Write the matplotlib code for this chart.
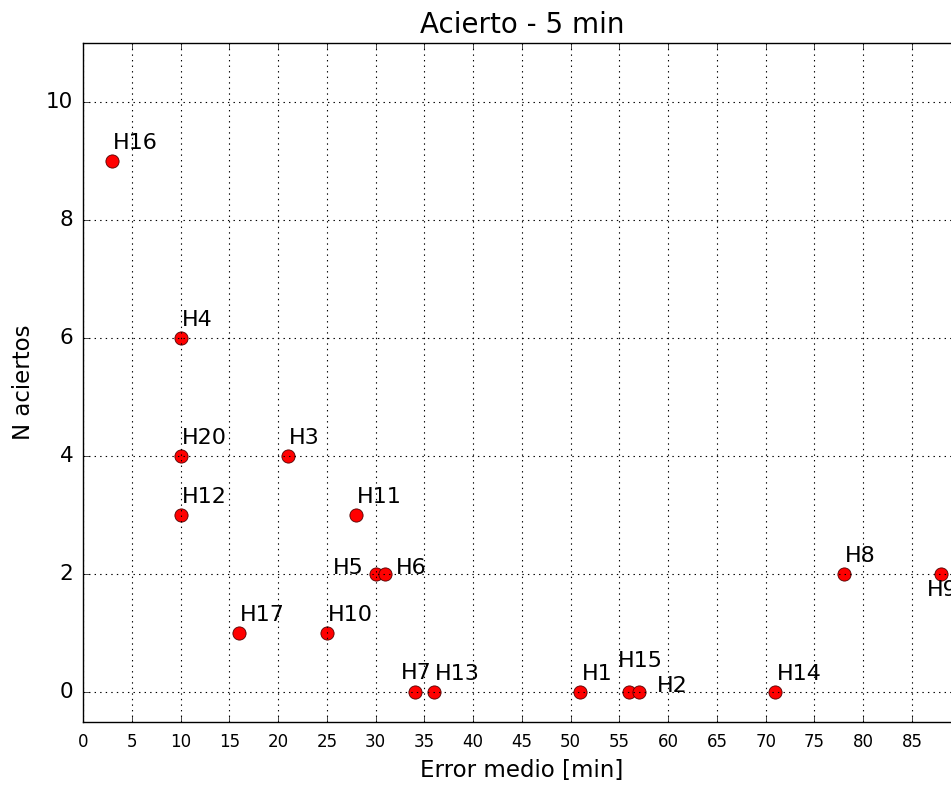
import matplotlib
matplotlib.use("Agg")
import matplotlib.pyplot as plt

# datos: error medio [min] y numero de aciertos por hipotesis
NOMBRES = ["H16", "H4", "H20", "H12", "H3", "H11", "H5", "H6", "H17",
           "H10", "H7", "H13", "H1", "H15", "H2", "H14", "H8", "H9"]
ERROR = [3, 10, 10, 10, 21, 28, 30, 31, 16, 25, 34, 36, 51, 56, 57, 71, 78, 88]
ACIERTOS = [9, 6, 4, 3, 4, 3, 2, 2, 1, 1, 0, 0, 0, 0, 0, 0, 2, 2]

# desplazamiento de cada etiqueta (pixeles, linea base) y alineacion
OFFSETS = {
    "H5": (-12, 0, "right"), "H6": (11, 0, "left"), "H7": (-14, 13, "left"),
    "H15": (-11, 25, "left"), "H2": (18, 0, "left"), "H9": (-14, -22, "left"),
}

plt.style.use("classic")
plt.rcParams["font.family"] = "DejaVu Sans"

fig = plt.figure(figsize=(9.51, 7.87), dpi=100, facecolor="white")
ax = fig.add_axes([0.0873, 0.0826, 0.923, 0.8628])

ax.plot(ERROR, ACIERTOS, "o", color="red", markeredgecolor="#500000",
        markeredgewidth=0.6, markersize=9.5, clip_on=False)

for nombre, x, y in zip(NOMBRES, ERROR, ACIERTOS):
    dx, dy, ha = OFFSETS.get(nombre, (1, 12, "left"))
    ax.annotate(nombre, (x, y), xytext=(dx, dy), textcoords="offset pixels",
                fontsize=16, ha=ha, va="baseline")

ax.set_xlim(0, 90)
ax.set_ylim(-0.5, 11)
ax.set_xticks(range(0, 95, 5))
ax.set_yticks(range(0, 11, 2))
ax.grid(True, linestyle=":", color="black", linewidth=0.8)
ax.tick_params(axis="x", labelsize=12, pad=8)
ax.tick_params(axis="y", labelsize=15.5, pad=7)

ax.set_xlabel("Error medio [min]", fontsize=16.5, labelpad=6)
ax.set_ylabel("N aciertos", fontsize=16.5, labelpad=8)
ax.set_title("Acierto - 5 min", fontsize=20, y=1.005)

fig.savefig("out.png", dpi=100, facecolor="white")
